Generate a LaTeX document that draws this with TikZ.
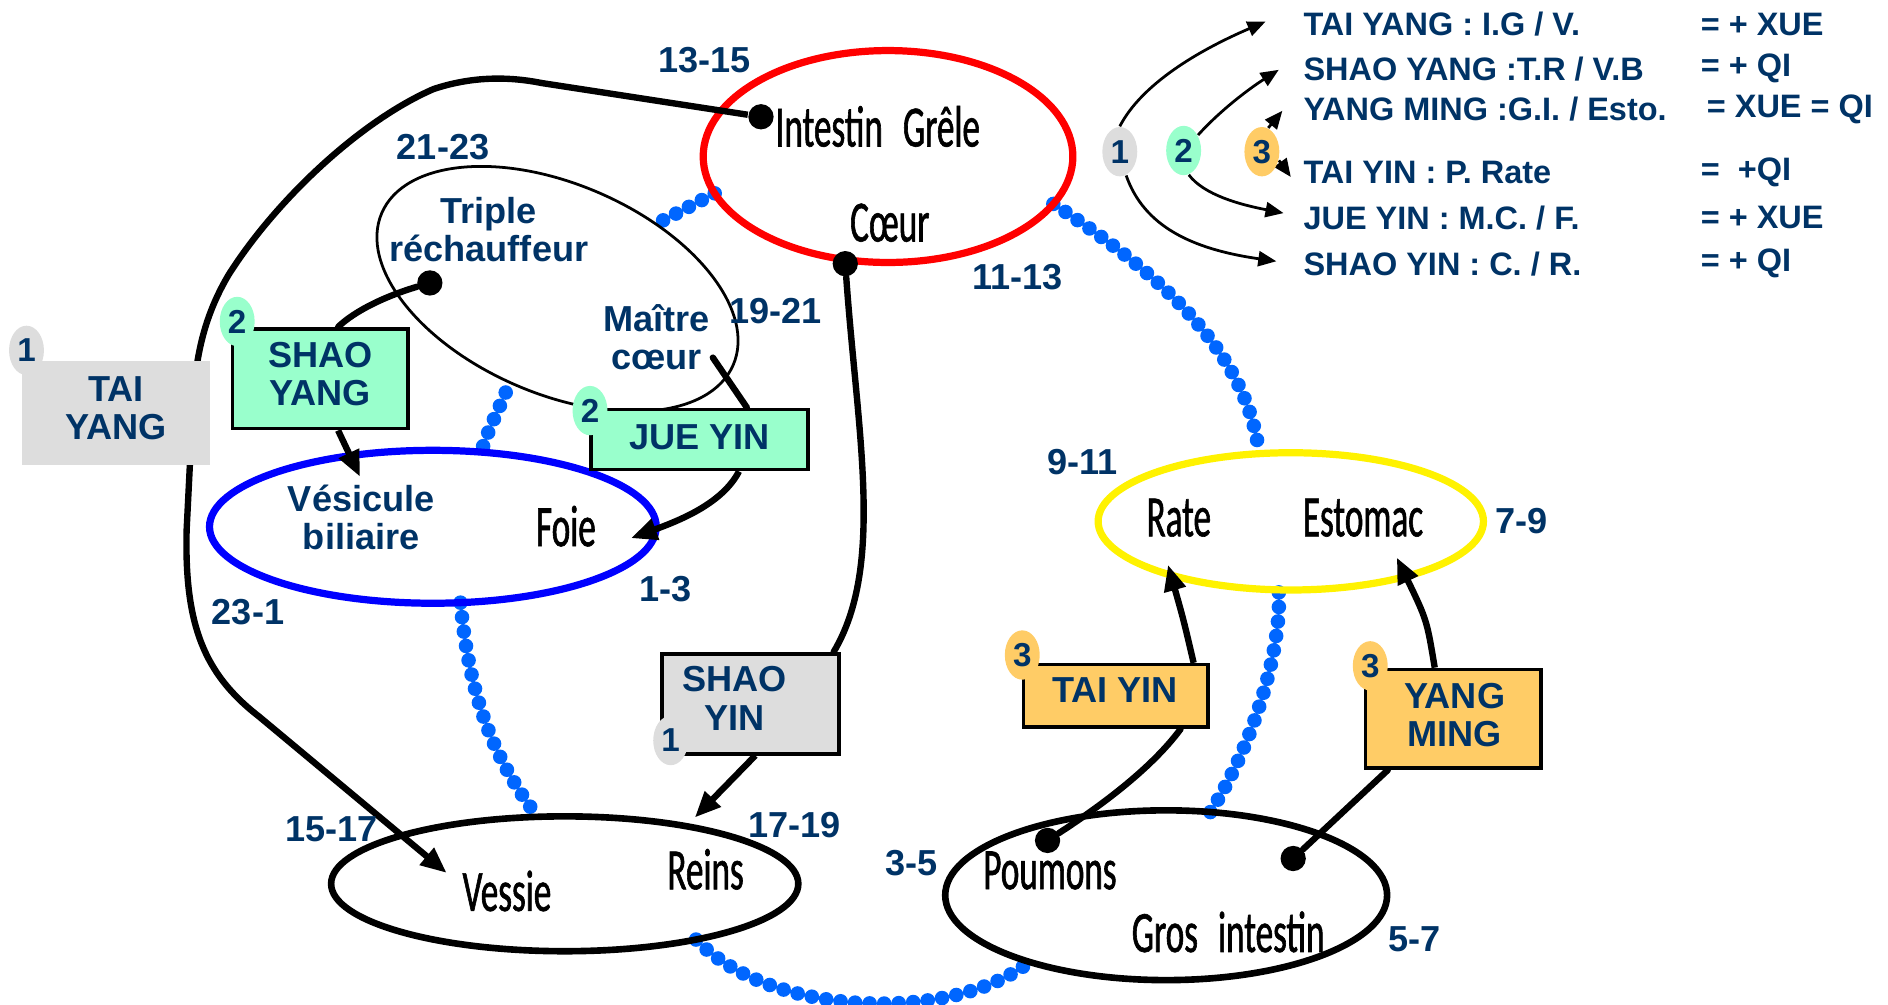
\documentclass[tikz,border=0pt]{standalone}
\usepackage{fontspec}
\setmainfont{Liberation Sans}
\newfontfamily\orgfont{Carlito}[FakeStretch=0.6,FakeBold=1]
\usetikzlibrary{shapes.geometric,arrows.meta}
\pgfdeclarelayer{bg}
\pgfdeclarelayer{conn}
\pgfdeclarelayer{top}
\pgfsetlayers{bg,main,conn,top}
\definecolor{navy}{RGB}{0,51,102}
\definecolor{mint}{RGB}{153,255,204}
\definecolor{lgray}{RGB}{221,221,221}
\definecolor{orng}{RGB}{255,204,102}
\definecolor{dotblue}{RGB}{0,102,255}
\newdimen\pxu \pxu=0.012cm
\tikzset{
  lbl/.style={font=\bfseries\fontsize{10.24pt}{10.8pt}\selectfont, text=navy, align=center, inner sep=0pt},
  leg/.style={font=\bfseries\fontsize{9.2pt}{9.4pt}\selectfont, text=navy, anchor=west, inner sep=0pt},
  orgtxt/.style={font=\orgfont\fontsize{16.6pt}{17pt}\selectfont, text=black, inner sep=0pt},
  organ/.style={ellipse, inner sep=0pt, outer sep=0pt},
  meridian/.style={rectangle, inner sep=0pt, draw=black, line width=3\pxu},
  badge/.style={ellipse, inner sep=0pt, minimum width=29\pxu, minimum height=41\pxu,
    font=\bfseries\fontsize{9.4pt}{10pt}\selectfont, text=navy},
  thickline/.style={line width=5.3\pxu, line join=round, line cap=round},
  thickarrow/.style={line width=5.3\pxu, line join=round, -{Triangle[length=0.26cm,width=0.21cm]}},
  legarrow/.style={line width=2.3\pxu, -{Triangle[length=0.18cm,width=0.15cm]}},
  beads/.style={draw=dotblue, line width=0.145cm, line cap=round, dash pattern=on 0pt off 0.145cm},
  blob/.style={circle, fill=black, inner sep=0pt, minimum size=21\pxu},
}
\begin{document}
\begin{tikzpicture}[x=0.012cm, y=-0.012cm]
\useasboundingbox (0,0) rectangle (1568,834);

% ---------- organ ellipses ----------
\node[organ, draw=red, line width=6\pxu, minimum width=307\pxu, minimum height=176\pxu] (ig) at (737.5,130) {};
\node[organ, draw=black, line width=2.3\pxu, minimum width=318\pxu, minimum height=174\pxu, rotate=-23.4] (tr) at (463,240) {};
\node[organ, draw=blue, line width=6\pxu, minimum width=371\pxu, minimum height=127\pxu] (vb) at (359.5,437.5) {};
\node[organ, draw=yellow, line width=6\pxu, minimum width=320\pxu, minimum height=114\pxu] (yel) at (1072,433) {};
\node[organ, draw=black, line width=5.5\pxu, minimum width=388\pxu, minimum height=112\pxu] (ve) at (469,734) {};
\node[organ, draw=black, line width=5.5\pxu, minimum width=367\pxu, minimum height=141\pxu] (pg) at (968.5,743.5) {};

% ---------- coordinates ----------
\coordinate (tra) at (545,186);
\coordinate (trb) at (420,326);
\coordinate (mcE) at (592,297);
\coordinate (aV) at (371,725);
\coordinate (aVB) at (299,396);
\coordinate (aF) at (524,447);
\coordinate (aR) at (577,679);
\coordinate (aRa) at (970,469);
\coordinate (aEs) at (1160,463);
\coordinate (T1) at (1051,18);
\coordinate (T2) at (1062,58);
\coordinate (T3) at (1065,92);
\coordinate (T4) at (1072,147);
\coordinate (T5) at (1066,177);
\coordinate (T6) at (1060,217);

\begin{pgfonlayer}{top}
% ---------- meridian boxes ----------
\node[meridian, fill=lgray, draw=none, minimum width=156\pxu, minimum height=86\pxu] (ty) at (96,343) {};
\node[meridian, fill=mint, minimum width=146\pxu, minimum height=83\pxu] (sy) at (266,314.5) {};
\node[meridian, fill=mint, minimum width=180\pxu, minimum height=50\pxu] (jy) at (581,365) {};
\node[meridian, fill=lgray, minimum width=147\pxu, minimum height=83\pxu] (sx) at (623.5,584.5) {};
\node[meridian, fill=orng, minimum width=153\pxu, minimum height=52\pxu] (ti) at (926.5,578) {};
\node[meridian, fill=orng, minimum width=146\pxu, minimum height=82\pxu] (ym) at (1207,597) {};

\node[lbl] (tyt) at (96.5,339) {TAI\\YANG};
\node[lbl] (syt) at (266,310.5) {SHAO\\YANG};
\node[lbl] (jyt) at (581,363) {JUE YIN};
\node[lbl] (sxt) at (610,580) {SHAO\\YIN};
\node[lbl] (tit) at (926,573.5) {TAI YIN};
\node[lbl] (ymt) at (1208,594) {YANG\\MING};

% ---------- badges ----------
\node[badge, fill=lgray] (bty) at (22,291) {1};
\node[badge, fill=mint] (bsy) at (197,267) {2};
\node[badge, fill=mint] (bjy) at (490,341) {2};
\node[badge, fill=lgray] (bsx) at (557,615) {1};
\node[badge, fill=orng] (bti) at (849,544) {3};
\node[badge, fill=orng] (bym) at (1138,553) {3};
\node[badge, fill=lgray] (L1) at (930,126) {1};
\node[badge, fill=mint] (L2) at (983,125) {2};
\node[badge, fill=orng] (L3) at (1048,126) {3};

% ---------- organ names ----------
\node[orgtxt] (nig) at (729,105) {Intestin\hspace{0.2cm}Grêle};
\node[orgtxt] (nc) at (739,185) {Cœur};
\node[orgtxt] (nf) at (470,437) {Foie};
\node[orgtxt] (nra) at (979,430) {Rate};
\node[orgtxt] (nes) at (1132,430) {Estomac};
\node[orgtxt] (nve) at (421,740) {Vessie};
\node[orgtxt] (nre) at (586,722) {Reins};
\node[orgtxt] (npo) at (872,723) {Poumons};
\node[orgtxt] (ngi) at (1020,774) {Gros\hspace{0.2cm}intestin};

\node[lbl] (ntr) at (406,191) {Triple\\réchauffeur};
\node[lbl] (nmc) at (545,280) {Maître\\cœur};
\node[lbl] (nvb) at (300,430) {Vésicule\\biliaire};

% ---------- hours ----------
\node[lbl] (h1) at (585,50) {13-15};
\node[lbl] (h2) at (368,122) {21-23};
\node[lbl] (h3) at (644,258) {19-21};
\node[lbl] (h4) at (845,230) {11-13};
\node[lbl] (h5) at (899,384) {9-11};
\node[lbl] (h6) at (1264,433) {7-9};
\node[lbl] (h7) at (553,489) {1-3};
\node[lbl] (h8) at (206,508) {23-1};
\node[lbl] (h9) at (275.5,689) {15-17};
\node[lbl] (h10) at (660,685) {17-19};
\node[lbl] (h11) at (757,717) {3-5};
\node[lbl] (h12) at (1175,780) {5-7};

% ---------- legend ----------
\node[leg] (l1) at (1082,20) {TAI YANG : I.G / V.};
\node[leg] (l2) at (1082,57) {SHAO YANG :T.R / V.B};
\node[leg] (l3) at (1082,91) {YANG MING :G.I. / Esto.};
\node[leg] (l4) at (1082,143) {TAI YIN : P. Rate};
\node[leg] (l5) at (1082,181) {JUE YIN : M.C. / F.};
\node[leg] (l6) at (1082,219) {SHAO YIN : C. / R.};
\node[leg] (r1) at (1412,20) {= + XUE};
\node[leg] (r2) at (1412,57) {= + QI};
\node[leg] (r3) at (1417,91) {= XUE = QI};
\node[leg] (r4) at (1412,143) {=\ \ +QI};
\node[leg] (r5) at (1412,181) {= + XUE};
\node[leg] (r6) at (1412,219) {= + QI};

% ---------- dots ----------
\node[blob] (dIG) at (632,97) {};
\node[blob] (dC) at (702,219) {};
\node[blob] (dTR) at (357,235) {};
\node[blob] (dP) at (870,698) {};
\node[blob] (dGI) at (1074,713) {};
\end{pgfonlayer}

% ---------- blue beaded links ----------
\begin{pgfonlayer}{bg}
\draw[beads] (ig.192) -- (tra);
\draw[beads] (ig.-16.6) .. controls (960,225) and (1035,290) .. (yel.115.7);
\draw[beads] (trb) .. controls (412,345) and (404,360) .. (vb.57.5);
\draw[beads] (vb.-70.3) .. controls (390,580) and (410,630) .. (ve.112.5);
\draw[beads] (ve.-23) .. controls (640,845) and (790,850) .. (pg.206.1);
\draw[beads] (pg.62.2) .. controls (1040,620) and (1065,540) .. (yel.-100);
\end{pgfonlayer}

% ---------- meridian connectors ----------
\begin{pgfonlayer}{conn}
\draw[thickarrow] (dIG) -- (450,69) .. controls (420,63) and (390,64) .. (360,74)
  .. controls (300,100) and (230,165) .. (190,228)
  .. controls (168,265) and (162,300) .. (160,340) -- (155,440)
  .. controls (153,520) and (170,560) .. (215,595) -- (aV);
\draw[thickline] (dTR) .. controls (320,246) and (295,258) .. (sy.71);
\draw[thickarrow] (sy.-71) -- (aVB);
\draw[thickline] (mcE) -- (jy.34);
\draw[thickarrow] (jy.-39) .. controls (600,418) and (565,432) .. (aF);
\draw[thickline] (dC) .. controls (712,360) and (735,470) .. (sx.32);
\draw[thickarrow] (sx.-85) -- (aR);
\draw[thickarrow] (ti.23.3) .. controls (983,515) .. (aRa);
\draw[thickline] (ti.-27.7) .. controls (955,640) and (910,672) .. (dP);
\draw[thickarrow] (ym.110) .. controls (1185,515) .. (aEs);
\draw[thickline] (ym.-142.3) -- (dGI);

\draw[legarrow] (L1.north) .. controls (948,70) and (995,42) .. (T1);
\draw[legarrow] (L2.47) .. controls (1015,90) and (1040,72) .. (T2);
\draw[legarrow] (L3.75) -- (T3);
\draw[legarrow] (L3.-27) -- (T4);
\draw[legarrow] (L2.-78) .. controls (1000,162) and (1030,170) .. (T5);
\draw[legarrow] (L1.-75) .. controls (950,188) and (990,207) .. (T6);
\end{pgfonlayer}
\end{tikzpicture}
\end{document}
